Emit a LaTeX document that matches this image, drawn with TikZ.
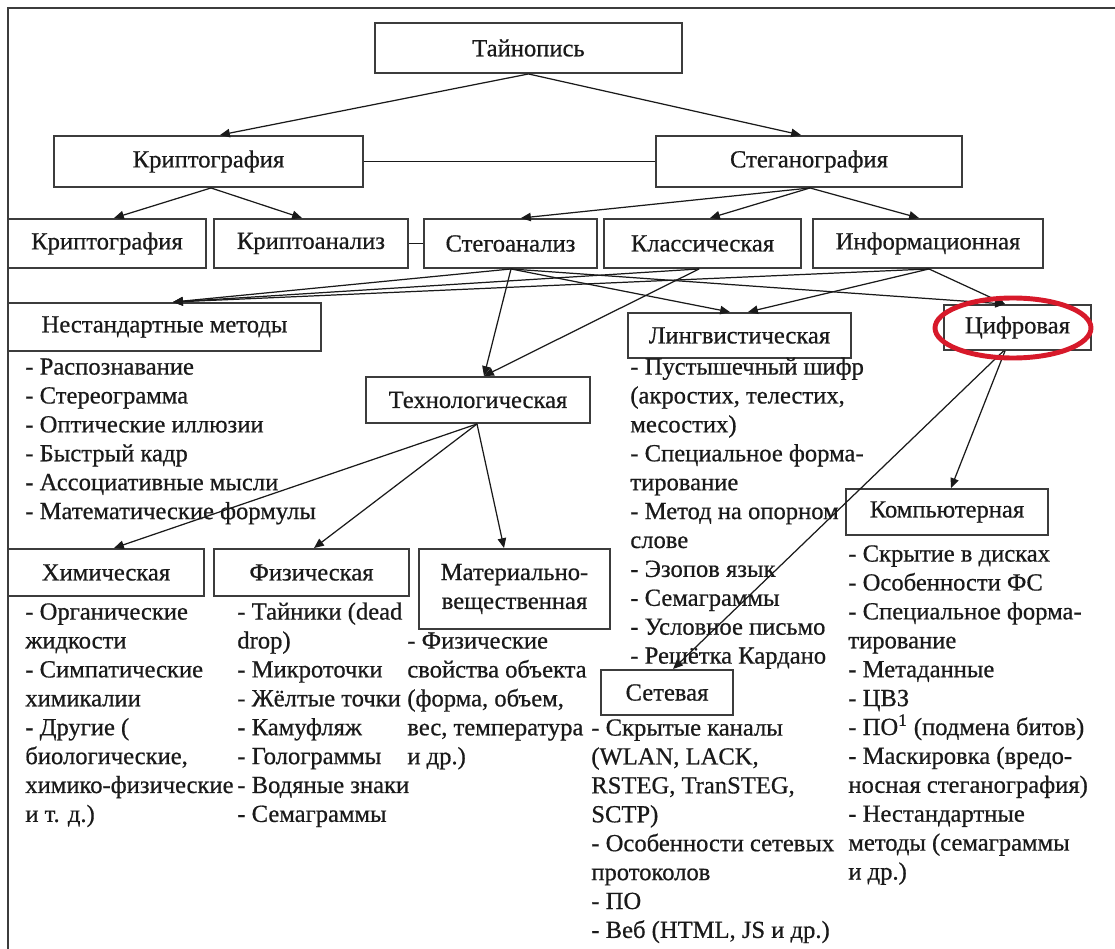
\documentclass[tikz,border=0pt]{standalone}
\usepackage{fontspec}
\setmainfont{Liberation Serif}[FakeBold=0.6]
\usetikzlibrary{arrows.meta,calc}

\definecolor{ink}{HTML}{1A1A1A}
\definecolor{edgec}{HTML}{3C3C3C}
\definecolor{ringc}{HTML}{D7192A}

\newcommand\txtfont{\fontsize{14}{16.45}\selectfont}
% box from corner (x1,y1) to corner (x2,y2), in pixel units
\newcommand\boxnode[6]{%
  \node[box, minimum width={((#4)-(#2))*0.02cm}, minimum height={((#5)-(#3))*0.02cm}]
    (#1) at ({((#2)+(#4))/2},{((#3)+(#5))/2}) {#6};}

\begin{document}
\begin{tikzpicture}[x=0.02cm, y=-0.02cm,
  box/.style={draw=edgec, line width=1.1pt, inner sep=0pt, text=ink, font=\txtfont, align=center},
  link/.style={draw=ink, line width=0.7pt},
  arr/.style={link, -{Triangle[length=5.6pt,width=4.8pt]}},
  listtext/.style={anchor=north west, inner sep=0pt, align=left, text=ink, font=\txtfont},
  frame/.style={draw=edgec, line width=1.2pt},
  ring/.style={draw=ringc, line width=2.8pt}]

\useasboundingbox (0,0) rectangle (1115,949);
\fill[white] (0,0) rectangle (1115,949);

% outer frame (top and left edges)
\draw[frame] (8,949) -- (8,8) -- (1115,8);

% boxes
\boxnode{tai}{375}{23}{682}{73}{Тайнопись}
\boxnode{kr}{54}{136}{363}{187}{Криптография}
\boxnode{st}{656}{136}{962}{187}{Стеганография}
\boxnode{krb}{8}{219}{206}{268}{Криптография}
\boxnode{ka}{214}{219}{408}{268}{Криптоанализ}
\boxnode{sa}{424}{219}{597}{268}{Стегоанализ}
\boxnode{kl}{604}{219}{801}{268}{Классическая}
\boxnode{inf}{813}{219}{1043}{268}{Информационная}
\boxnode{nm}{8}{303}{321}{351}{Нестандартные методы}
\boxnode{ling}{628}{313}{851}{358}{Лингвистическая}
\boxnode{cif}{944}{305}{1091}{350}{Цифровая}
\boxnode{tech}{366}{377}{590}{423}{Технологическая}
\boxnode{chem}{8}{549}{204}{596}{Химическая}
\boxnode{phys}{214}{549}{409}{596}{Физическая}
\boxnode{mat}{419}{549}{610}{629}{Материально-\\вещественная}
\boxnode{comp}{846}{489}{1048}{535}{Компьютерная}
\boxnode{net}{601}{670}{733}{715}{Сетевая}

% lists under the boxes
\node[listtext] (nmlist) at (25,354) {\strut- Распознавание\\- Стереограмма\\- Оптические иллюзии\\- Быстрый кадр\\- Ассоциативные мысли\\- Математические формулы};
\node[listtext] (linglist) at (630,354) {\strut- Пустышечный шифр\\(акростих, телестих,\\месостих)\\- Специальное форма-\\тирование\\- Метод на опорном\\слове\\- Эзопов язык\\- Семаграммы\\- Условное письмо\\- Решётка Кардано};
\node[listtext] (chemlist) at (25,599) {\strut- Органические\\жидкости\\- Симпатические\\химикалии\\- Другие (\\биологические,\\химико-физические\\и т. д.)};
\node[listtext] (physlist) at (237,599) {\strut- Тайники (dead\\drop)\\- Микроточки\\- Жёлтые точки\\- Камуфляж\\- Голограммы\\- Водяные знаки\\- Семаграммы};
\node[listtext] (matlist) at (407,628) {\strut- Физические\\свойства объекта\\(форма, объем,\\вес, температура\\и др.)};
\node[listtext] (complist) at (848,541) {\strut- Скрытие в дисках\\- Особенности ФС\\- Специальное форма-\\тирование\\- Метаданные\\- ЦВЗ\\- ПО\textsuperscript{1} (подмена битов)\\- Маскировка (вредо-\\носная стеганография)\\- Нестандартные\\методы (семаграммы\\и др.)};
\node[listtext] (netlist) at (591,715) {\strut- Скрытые каналы\\(WLAN, LACK,\\RSTEG, TranSTEG,\\SCTP)\\- Особенности сетевых\\протоколов\\- ПО\\- Веб (HTML, JS и др.)};

% plain links
\draw[link] (kr.east) -- (st.west);
\draw[link] (ka.east) -- (sa.west);

% top levels
\draw[arr] (tai.south) -- ($(kr.north)+(11.5,0)$);
\draw[arr] (tai.south) -- ($(st.north)+(-8,0)$);
\draw[arr] ($(kr.south)+(2.5,0)$) -- ($(krb.north)+(7,0)$);
\draw[arr] ($(kr.south)+(2.5,0)$) -- ($(ka.north)+(-9,0)$);
\draw[arr] ($(st.south)+(1,0)$) -- ($(sa.north)+(10.5,0)$);
\draw[arr] ($(st.south)+(1,0)$) -- ($(kl.north)+(7.5,0)$);
\draw[arr] ($(st.south)+(1,0)$) -- ($(inf.north)+(-9,0)$);

% steganalysis and the two classes to their methods
\draw[arr] ($(sa.south)+(0.5,0)$) -- ($(nm.north)+(8.5,0)$);
\draw[arr] ($(kl.south)+(-3.5,0)$) -- ($(nm.north)+(8.5,0)$);
\draw[arr] ($(inf.south)+(1,0)$) -- ($(nm.north)+(8.5,0)$);
\draw[arr] ($(sa.south)+(0.5,0)$) -- ($(tech.north)+(6,0)$);
\draw[arr] ($(kl.south)+(-3.5,0)$) -- ($(tech.north)+(6,0)$);
\draw[arr] ($(sa.south)+(0.5,0)$) -- ($(ling.north)+(-9.5,0)$);
\draw[arr] ($(inf.south)+(1,0)$) -- ($(ling.north)+(8.5,0)$);
\draw[arr] ($(sa.south)+(0.5,0)$) -- ($(cif.north)+(-12.5,0)$);
\draw[arr] ($(inf.south)+(1,0)$) -- ($(cif.north)+(-12.5,0)$);

% technological branch
\draw[arr] ($(tech.south)+(-1,0)$) -- ($(chem.north)+(8,0)$);
\draw[arr] ($(tech.south)+(-1,0)$) -- ($(phys.north)+(2.5,0)$);
\draw[arr] ($(tech.south)+(-1,0)$) -- ($(mat.north)+(-10.5,0)$);

% digital branch
\draw[arr] ($(cif.south)+(-12.5,0)$) -- ($(comp.north)+(4,0)$);
\draw[arr] ($(cif.south)+(-14,0)$) -- ($(net.north)+(6,0)$);

% red ring round the digital class
\draw[ring] ($(cif.center)+(-4.5,0.5)$) ellipse [x radius=1.56cm, y radius=0.6cm];
\end{tikzpicture}
\end{document}
